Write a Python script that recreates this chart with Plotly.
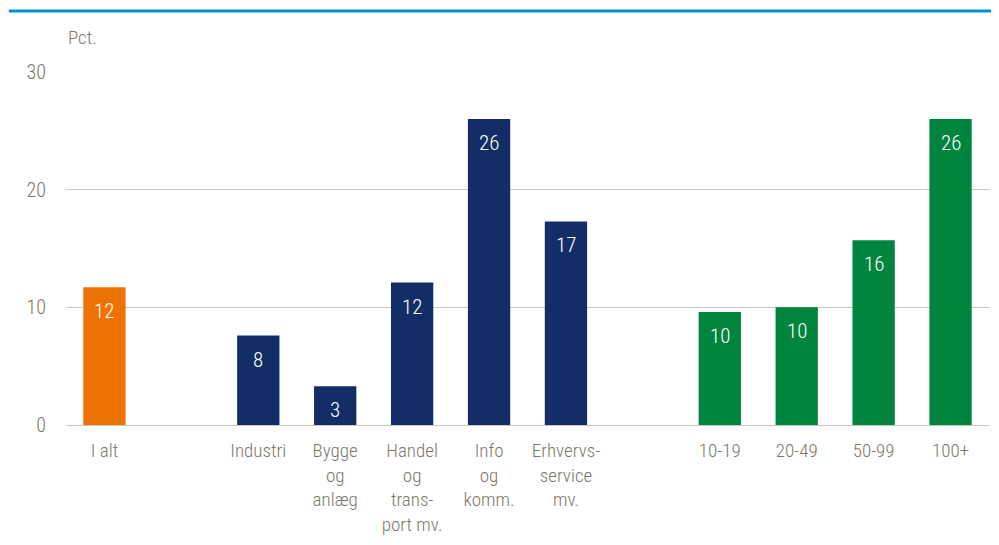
import plotly.graph_objects as go

categories = ["I alt", " ", "Industri", "Bygge<br>og<br>anlæg", "Handel<br>og<br>trans-<br>port mv.",
              "Info<br>og<br>komm.", "Erhvervs-<br>service<br>mv.", "  ", "10-19", "20-49", "50-99", "100+"]

total_cat = ["I alt"]
total_val = [11.7]

sector_cat = ["Industri", "Bygge<br>og<br>anlæg", "Handel<br>og<br>trans-<br>port mv.",
              "Info<br>og<br>komm.", "Erhvervs-<br>service<br>mv."]
sector_val = [7.6, 3.3, 12.1, 26.0, 17.3]

size_cat = ["10-19", "20-49", "50-99", "100+"]
size_val = [9.6, 10.0, 15.7, 26.0]

ytick_vals = [0, 10, 20, 30]

FONT = "Roboto Condensed, Liberation Sans Narrow, sans-serif"
GREY = "#7a786c"
W = 300

fig = go.Figure()
annotations = []
for cats, vals, color in [(total_cat, total_val, "#ee7203"),
                          (sector_cat, sector_val, "#132e67"),
                          (size_cat, size_val, "#00853e")]:
    fig.add_trace(go.Bar(x=cats, y=vals, marker=dict(color=color, line=dict(width=0)),
                         showlegend=False, hoverinfo="x+y"))
    for c, v in zip(cats, vals):
        annotations.append(dict(x=c, y=v, xref="x", yref="y", text=f"{v:.0f}", showarrow=False,
                                yanchor="middle", yshift=-24,
                                font=dict(color="white", size=21, family=FONT, weight=W)))

annotations.append(dict(text="Pct.", xref="paper", yref="paper", x=0.0, y=1.099, xanchor="left",
                        yanchor="middle", showarrow=False,
                        font=dict(size=19, color=GREY, family=FONT, weight=W)))

fig.update_layout(
    width=991, height=537,
    margin=dict(l=58, r=10, t=64, b=120),
    paper_bgcolor="white", plot_bgcolor="white",
    bargap=0.45,
    font=dict(family=FONT, color=GREY, size=19, weight=W),
    xaxis=dict(type="category", categoryorder="array", categoryarray=categories,
               showgrid=False, showline=False, zeroline=False, ticks="", ticklabelstandoff=12,
               tickfont=dict(size=19, color=GREY, family=FONT, weight=W), fixedrange=True),
    yaxis=dict(range=[0, 30], tickvals=ytick_vals, showgrid=True, gridcolor="#c9c7bd", gridwidth=1.3,
               zeroline=True, zerolinecolor="#c9c7bd", zerolinewidth=1.3, showline=False,
               ticks="", ticklabelstandoff=19, tickfont=dict(size=20, color=GREY, family=FONT, weight=W)),
    shapes=[dict(type="line", xref="paper", yref="paper", x0=-0.062, x1=1.011, y0=1.173, y1=1.173,
                 line=dict(color="#0091d5", width=3))],
    annotations=annotations,
)

fig.write_html("out.html")
